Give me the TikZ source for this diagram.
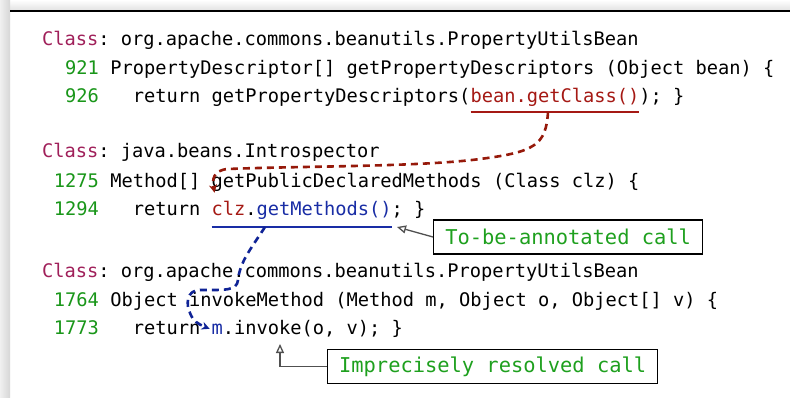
\documentclass[tikz,border=0pt]{standalone}
\usepackage{fontspec}
\newfontfamily\mymono{DejaVu Sans Mono}
\usetikzlibrary{arrows.meta,calc}
\definecolor{classcol}{RGB}{160,32,90}
\definecolor{numcol}{RGB}{25,150,25}
\definecolor{redcode}{RGB}{165,25,20}
\definecolor{bluecode}{RGB}{25,45,165}
\definecolor{reddash}{RGB}{150,25,10}
\definecolor{bluedash}{RGB}{15,35,150}
\definecolor{callgreen}{RGB}{30,160,30}
\definecolor{callgray}{RGB}{80,80,80}
\newcommand\mycode{\mymono\fontsize{18.7pt}{22pt}\selectfont}
\newcommand\mycall{\mymono\fontsize{20.4pt}{24pt}\selectfont}
\begin{document}
\begin{tikzpicture}[x=1pt,y=-1pt,
  tok/.style={inner sep=0pt, outer sep=0pt, anchor=base west, font=\mycode},
  num/.style={inner sep=0pt, outer sep=0pt, anchor=base east, font=\mycode, text=numcol},
  underl/.style={line width=2.8pt},
  reddashed/.style={draw=reddash, line width=2.6pt, dash pattern=on 7pt off 5pt, -{Stealth[length=8pt,width=8pt,fill=reddash]}},
  bluedashed/.style={draw=bluedash, line width=2.6pt, dash pattern=on 7pt off 5pt, -{Stealth[length=8pt,width=8pt,fill=bluedash]}},
  callbox/.style={draw=black, line width=1.3pt, fill=white, font=\mycall, text=callgreen, inner xsep=11pt, minimum height=34pt, anchor=west},
  callarrow/.style={draw=callgray, line width=1.3pt, -{Triangle[open,length=9pt,width=8pt]}}
]
\useasboundingbox (0,0) rectangle (790,397);
% frame
\fill[white] (0,0) rectangle (790,397);
\shade[top color=white, bottom color=gray!22] (10,0) rectangle (790,10);
\shade[left color=gray!12, right color=gray!32] (0,0) rectangle (10,397);
\draw[line width=2pt] (10,11) -- (790,11);

% ---------- block 1
\node[tok, text=classcol] (c1k) at (42,45) {Class};
\node[tok] (c1) at (c1k.base east) {:\ org.apache.commons.beanutils.PropertyUtilsBean};
\node[num] (n921) at (99,74) {921};
\node[tok] (l921) at (110.25,74) {PropertyDescriptor[]\ getPropertyDescriptors\ (Object\ bean)\ \{};
\node[num] (n926) at (99,102) {926};
\node[tok] (l926a) at (110.25,102) {\ \ return\ getPropertyDescriptors(};
\node[tok, text=redcode] (bean) at (l926a.base east) {bean.getClass()};
\node[tok] (l926b) at (bean.base east) {);\ \}};

% ---------- block 2
\node[tok, text=classcol] (c2k) at (42,157) {Class};
\node[tok] (c2) at (c2k.base east) {:\ java.beans.Introspector};
\node[num] (n1275) at (99,187) {1275};
\node[tok] (l1275) at (110.25,187) {Method[]\ getPublicDeclaredMethods\ (Class\ clz)\ \{};
\node[num] (n1294) at (99,215) {1294};
\node[tok] (l1294a) at (110.25,215) {\ \ return\ \null};
\node[tok, text=redcode] (clz) at (l1294a.base east) {clz};
\node[tok] (dot) at (clz.base east) {.};
\node[tok, text=bluecode] (getm) at (dot.base east) {getMethods()};
\node[tok] (l1294b) at (getm.base east) {;\ \}};

% ---------- block 3
\node[tok, text=classcol] (c3k) at (42,277) {Class};
\node[tok] (c3) at (c3k.base east) {:\ org.apache.commons.beanutils.PropertyUtilsBean};
\node[num] (n1764) at (99,306) {1764};
\node[tok] (l1764) at (110.25,306) {Object\ invokeMethod\ (Method\ m,\ Object\ o,\ Object[]\ v)\ \{};
\node[num] (n1773) at (99,334) {1773};
\node[tok] (l1773a) at (110.25,334) {\ \ return\ \null};
\node[tok, text=bluecode] (m) at (l1773a.base east) {m};
\node[tok] (l1773b) at (m.base east) {.invoke(o,\ v);\ \}};

% ---------- underlines
\draw[underl, draw=redcode] ([yshift=-10pt]bean.base west) -- ([yshift=-10pt]bean.base east);
\draw[underl, draw=bluecode] ([yshift=-12pt]clz.base west) -- ([yshift=-12pt]getm.base east);

% ---------- dashed flows
\coordinate (rs) at (548,112);
\coordinate (rt) at ([xshift=3pt,yshift=8pt]clz.north west);
\draw[reddashed] (rs) .. controls (546,145) and (535,152) .. (480,159)
   .. controls (420,167) and (300,166) .. (228,169)
   .. controls (213,170) and (212,180) .. (rt);

\coordinate (bs) at (265,227);
\coordinate (bt) at ([xshift=-2pt]m.west);
\draw[bluedashed] (bs) .. controls (250,250) and (240,262) .. (238,280)
   .. controls (237,291) and (225,290) .. (200,290)
   .. controls (186,290) and (186,305) .. (190,313)
   .. controls (193,321) and (198,324) .. (bt);

% ---------- callouts
\node[callbox, minimum width=269pt] (cb1) at (433,237) {To-be-annotated call\hfill};
\coordinate (t1) at (397,227);
\draw[callarrow] (cb1.west) -- (t1);

\node[callbox, minimum width=330pt] (cb2) at (327,366.5) {Imprecisely resolved call};
\coordinate (t2) at (280,344);
\draw[callarrow] (cb2.west) -| (t2);
\end{tikzpicture}
\end{document}
